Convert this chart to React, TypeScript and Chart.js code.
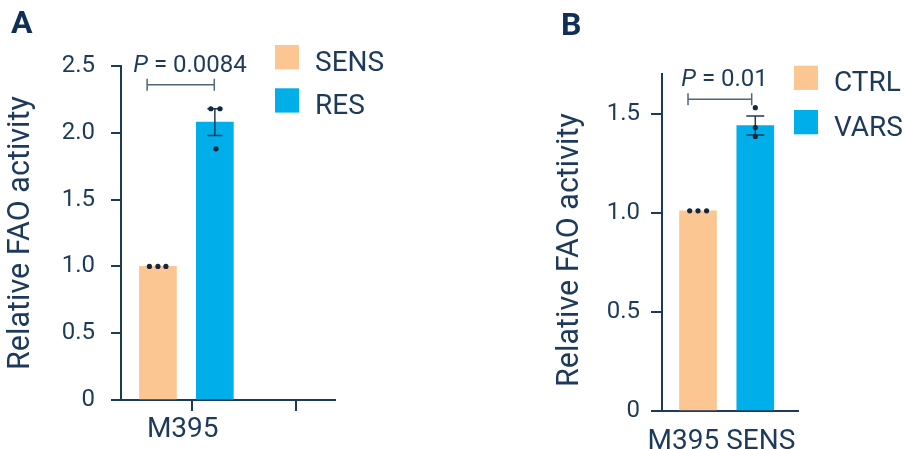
import React, { useEffect, useRef } from "react";
import { Chart, registerables } from "chart.js";

Chart.register(...registerables);

const FONT = "Roboto, 'Noto Sans', sans-serif";
const NAVY = "#1d3a5a";
const DOT = "#14273d";
const BRACKET = "#51667b";
const COLORS = ["#FCC693", "#00AEEA"];
const Y_TITLE = "Relative FAO activity";

// ---------- Panel A data ----------
const aLegend = ["SENS", "RES"];
const aBarX = [1, 2];
const aMeans = [1.0, 2.08];
const aSem = [0, 0.1];
const aPointsX = [[0.85, 1.0, 1.14], [1.93, 2.09, 2.02]];
const aPointsY = [[1.0, 1.0, 1.0], [2.18, 2.18, 1.88]];
const aXTicks = [1.594, 3.421];
const aXLabels = ["M395", ""];
const aYTicks = [0, 0.5, 1.0, 1.5, 2.0, 2.5];
const aPValue = "0.0084";
const aBracketX = [0.81, 1.99];
const aBracketY = 2.36;

// ---------- Panel B data ----------
const bLegend = ["CTRL", "VARS"];
const bBarX = [1, 2];
const bMeans = [1.01, 1.44];
const bSem = [0, 0.048];
const bPointsX = [[0.855, 1.0, 1.15], [2.0, 2.0, 2.0]];
const bPointsY = [[1.01, 1.01, 1.01], [1.53, 1.43, 1.385]];
const bXTicks = [1.41];
const bXLabels = ["M395 SENS"];
const bYTicks = [0, 0.5, 1.0, 1.5];
const bPValue = "0.01";
const bBracketX = [0.826, 1.937];
const bBracketY = 1.573;

type PanelCfg = {
  left: number;
  w: number;
  h: number;
  area: { left: number; right: number; top: number; bottom: number };
  xMin: number;
  xMax: number;
  yMax: number;
  legend: string[];
  barX: number[];
  means: number[];
  sem: number[];
  ptsX: number[][];
  ptsY: number[][];
  xTicks: number[];
  xLabels: string[];
  yTicks: number[];
  pValue: string;
  pPos: [number, number];
  bracketX: number[];
  bracketY: number;
  xTickMarks: boolean;
  xLabelOffset: number;
  xLabelPad: number;
  yTickLen: number;
  yTickPad: number;
  titlePad: number;
  titleText: string;
  legendPos: [number, number];
  legendGap: number;
  capHalf: number;
};

const panelA: PanelCfg = {
  left: 0,
  w: 420,
  h: 449,
  area: { left: 121, right: 335, top: 66, bottom: 400 },
  xMin: 0.351,
  xMax: 4.111,
  yMax: 2.5,
  legend: aLegend,
  barX: aBarX,
  means: aMeans,
  sem: aSem,
  ptsX: aPointsX,
  ptsY: aPointsY,
  xTicks: aXTicks,
  xLabels: aXLabels,
  yTicks: aYTicks,
  pValue: aPValue,
  pPos: [1.564, 2.453],
  bracketX: aBracketX,
  bracketY: aBracketY,
  xTickMarks: true,
  xLabelOffset: -9,
  xLabelPad: 2,
  yTickLen: 10,
  yTickPad: 16,
  titlePad: 3,
  titleText: Y_TITLE,
  legendPos: [275, 45],
  legendGap: 43.3,
  capHalf: 7.5,
};

const panelB: PanelCfg = {
  left: 540,
  w: 365,
  h: 449,
  area: { left: 662 - 540, right: 798 - 540, top: 74, bottom: 411 },
  xMin: 0.372,
  xMax: 2.745,
  yMax: 1.7,
  legend: bLegend,
  barX: bBarX,
  means: bMeans,
  sem: bSem,
  ptsX: bPointsX,
  ptsY: bPointsY,
  xTicks: bXTicks,
  xLabels: bXLabels,
  yTicks: bYTicks,
  pValue: bPValue,
  pPos: [1.463, 1.64],
  bracketX: bBracketX,
  bracketY: bBracketY,
  xTickMarks: false,
  xLabelOffset: 0,
  xLabelPad: 3,
  yTickLen: 11,
  yTickPad: 11,
  titlePad: 12,
  titleText: Y_TITLE + "  ",
  legendPos: [794 - 540, 65.7],
  legendGap: 44.3,
  capHalf: 9,
};

function makeAnnotations(cfg: PanelCfg) {
  return {
    id: "faoAnnotations",
    beforeDatasetDraw(chart: any, args: any) {
      if (args.meta.type !== "scatter") return;
      const { ctx, scales } = chart;
      const xs = scales.x;
      const ys = scales.y;
      ctx.save();
      ctx.strokeStyle = NAVY;
      ctx.lineWidth = 1.5;
      cfg.means.forEach((m, i) => {
        const s = cfg.sem[i];
        if (!s) return;
        const px = xs.getPixelForValue(cfg.barX[i]);
        const yTop = ys.getPixelForValue(m + s);
        const yBot = ys.getPixelForValue(m - s);
        ctx.beginPath();
        ctx.moveTo(px, yTop);
        ctx.lineTo(px, yBot);
        ctx.moveTo(px - cfg.capHalf, yTop);
        ctx.lineTo(px + cfg.capHalf, yTop);
        ctx.moveTo(px - cfg.capHalf, yBot);
        ctx.lineTo(px + cfg.capHalf, yBot);
        ctx.stroke();
      });
      ctx.restore();
    },
    afterDraw(chart: any) {
      const { ctx, scales } = chart;
      const xs = scales.x;
      const ys = scales.y;
      ctx.save();
      // significance bracket
      const bx1 = xs.getPixelForValue(cfg.bracketX[0]);
      const bx2 = xs.getPixelForValue(cfg.bracketX[1]);
      const by = ys.getPixelForValue(cfg.bracketY);
      ctx.strokeStyle = BRACKET;
      ctx.lineWidth = 1.5;
      ctx.beginPath();
      ctx.moveTo(bx1, by);
      ctx.lineTo(bx2, by);
      ctx.moveTo(bx1, by - 6);
      ctx.lineTo(bx1, by + 6);
      ctx.moveTo(bx2, by - 6);
      ctx.lineTo(bx2, by + 6);
      ctx.stroke();

      // P value text
      const italic = `italic 24px ${FONT}`;
      const normal = `24px ${FONT}`;
      const rest = ` = ${cfg.pValue}`;
      ctx.font = italic;
      const wP = ctx.measureText("P").width;
      ctx.font = normal;
      const wR = ctx.measureText(rest).width;
      const cx = xs.getPixelForValue(cfg.pPos[0]);
      const ty = ys.getPixelForValue(cfg.pPos[1]);
      const sx = cx - (wP + wR) / 2;
      ctx.fillStyle = NAVY;
      ctx.textBaseline = "alphabetic";
      ctx.textAlign = "left";
      ctx.font = italic;
      ctx.fillText("P", sx, ty);
      ctx.font = normal;
      ctx.fillText(rest, sx + wP, ty);

      // legend
      const [lx, ly] = cfg.legendPos;
      chart.data.datasets.forEach((ds: any, i: number) => {
        if (ds.type !== "bar") return;
        const top = ly + i * cfg.legendGap;
        ctx.fillStyle = ds.backgroundColor;
        ctx.fillRect(lx, top, 24, 24.3);
        ctx.fillStyle = NAVY;
        ctx.font = `28px ${FONT}`;
        ctx.fillText(ds.label, lx + 24 + 16, top + 25.5);
      });
      ctx.restore();
    },
  };
}

function buildConfig(cfg: PanelCfg): any {
  const { area } = cfg;
  const barSets = cfg.legend.map((label, i) => ({
    type: "bar",
    label,
    data: [{ x: cfg.barX[i], y: cfg.means[i] }],
    backgroundColor: COLORS[i],
    borderWidth: 0,
    barThickness: 37,
    grouped: false,
    order: 3,
  }));
  const points: { x: number; y: number }[] = [];
  cfg.ptsX.forEach((row, i) =>
    row.forEach((x, j) => points.push({ x, y: cfg.ptsY[i][j] }))
  );
  return {
    type: "bar",
    data: {
      datasets: [
        ...barSets,
        {
          type: "scatter",
          label: "points",
          data: points,
          pointRadius: 2.6,
          pointBackgroundColor: DOT,
          pointBorderWidth: 0,
          order: 1,
        },
      ],
    },
    options: {
      responsive: false,
      animation: false,
      events: [],
      layout: {
        padding: { left: 0, top: area.top, right: cfg.w - area.right, bottom: 0 },
      },
      plugins: {
        legend: { display: false },
        tooltip: { enabled: false },
        title: { display: false },
      },
      scales: {
        x: {
          type: "linear",
          min: cfg.xMin,
          max: cfg.xMax,
          offset: false,
          z: 1,
          afterBuildTicks: (s: any) => {
            s.ticks = cfg.xTicks.map((v) => ({ value: v }));
          },
          afterFit: (s: any) => {
            s.height = cfg.h - area.bottom;
          },
          ticks: {
            autoSkip: false,
            maxRotation: 0,
            minRotation: 0,
            padding: cfg.xLabelPad,
            labelOffset: cfg.xLabelOffset,
            color: NAVY,
            font: { family: FONT, size: 28 },
            callback: (_v: any, i: number) => cfg.xLabels[i],
          },
          grid: {
            display: cfg.xTickMarks,
            offset: false,
            drawOnChartArea: false,
            drawTicks: true,
            tickLength: 11,
            color: NAVY,
            lineWidth: 2,
            tickWidth: 2,
            tickColor: NAVY,
          },
          border: { display: true, color: NAVY, width: 2 },
        },
        y: {
          type: "linear",
          min: 0,
          max: cfg.yMax,
          afterBuildTicks: (s: any) => {
            s.ticks = cfg.yTicks.map((v) => ({ value: v }));
          },
          afterFit: (s: any) => {
            s.width = area.left;
          },
          ticks: {
            padding: cfg.yTickPad,
            color: NAVY,
            font: { family: FONT, size: 24 },
            callback: (v: number) => (v === 0 ? "0" : v.toFixed(1)),
          },
          grid: {
            drawOnChartArea: false,
            drawTicks: true,
            tickLength: cfg.yTickLen,
            color: NAVY,
            lineWidth: 2,
            tickWidth: 2,
            tickColor: NAVY,
          },
          border: { display: true, color: NAVY, width: 2 },
          title: {
            display: true,
            text: cfg.titleText,
            color: NAVY,
            font: { family: FONT, size: 30.5 },
            padding: { top: cfg.titlePad, bottom: 0 },
          },
        },
      },
    },
    plugins: [makeAnnotations(cfg)],
  };
}

function FaoPanel({ cfg }: { cfg: PanelCfg }) {
  const ref = useRef<HTMLCanvasElement>(null);
  useEffect(() => {
    if (!ref.current) return;
    const chart = new Chart(ref.current, buildConfig(cfg));
    return () => chart.destroy();
  }, [cfg]);
  return (
    <canvas
      ref={ref}
      width={cfg.w}
      height={cfg.h}
      style={{ position: "absolute", left: cfg.left, top: 0, width: cfg.w, height: cfg.h }}
    />
  );
}

const letterStyle: React.CSSProperties = {
  position: "absolute",
  fontFamily: FONT,
  fontWeight: 700,
  fontSize: 32,
  lineHeight: "32px",
  color: "#0f2f55",
};

export default function App() {
  return (
    <div
      style={{
        position: "absolute",
        left: 0,
        top: 0,
        width: 905,
        height: 449,
        overflow: "hidden",
        background: "#fff",
      }}
    >
      <FaoPanel cfg={panelA} />
      <FaoPanel cfg={panelB} />
      <div style={{ ...letterStyle, left: 11, top: 6 }}>A</div>
      <div style={{ ...letterStyle, left: 561, top: 8 }}>B</div>
    </div>
  );
}
